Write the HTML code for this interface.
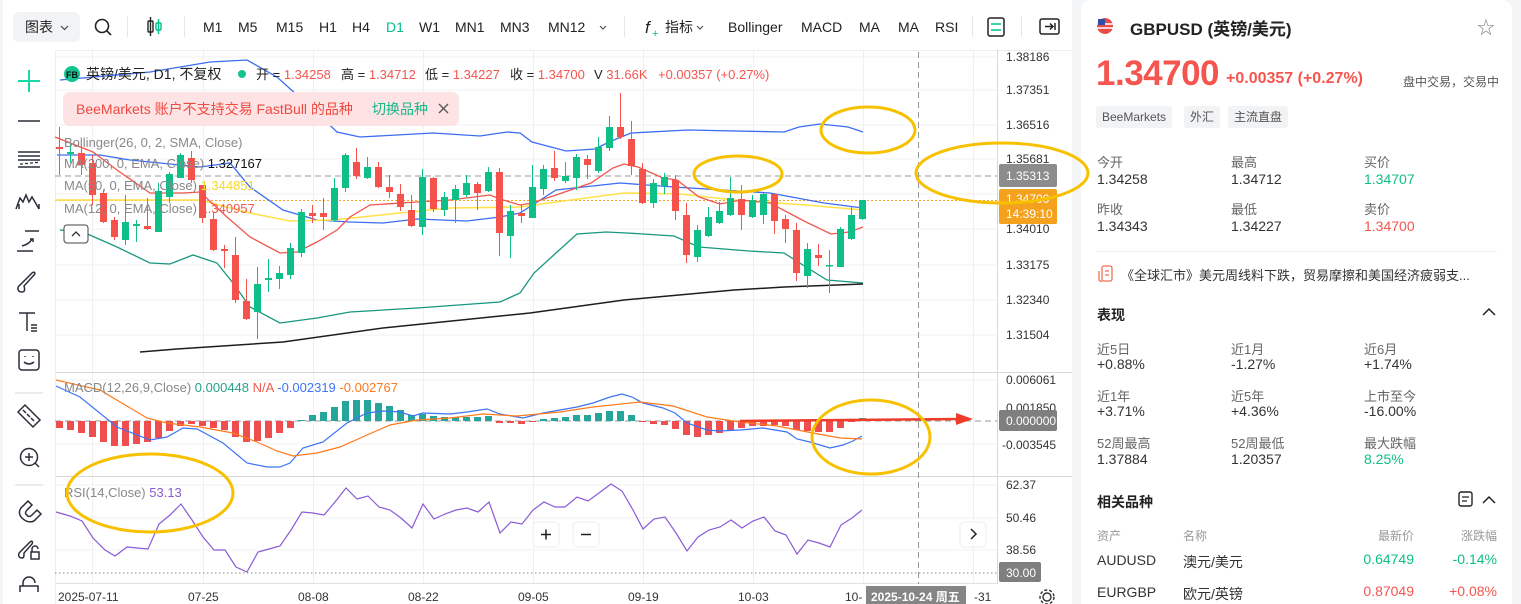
<!DOCTYPE html>
<html><head><meta charset="utf-8">
<style>
*{margin:0;padding:0;box-sizing:border-box}
body{width:1521px;height:604px;overflow:hidden;background:#f4f5f7;font-family:"Liberation Sans","Noto Sans CJK SC",sans-serif;position:relative}
#left{position:absolute;left:3px;top:0;width:1069px;height:604px;background:#fff;border-radius:10px 10px 0 0}
#rp{position:absolute;left:1081px;top:0;width:431px;height:604px;background:#fff;border-radius:10px 10px 0 0}
.t{position:absolute;white-space:nowrap}
.g{color:#666;font-size:13px}
.v{color:#333;font-size:14px}
.tag{position:absolute;top:106px;height:22px;line-height:22px;background:#f2f3f5;color:#555;font-size:12px;padding:0 6px;border-radius:3px}
</style></head><body>
<div id="left"></div>
<svg id="s" width="1072" height="604" style="position:absolute;left:0;top:0" font-family="Liberation Sans, Noto Sans CJK SC, sans-serif">
<rect x="3" y="0" width="1069" height="50" fill="#fff"/>
<line x1="55" y1="50.5" x2="1072" y2="50.5" stroke="#eee"/>
<rect x="13" y="12" width="67" height="30" rx="6" fill="#f2f3f5"/>
<text x="25" y="32" font-size="14" fill="#222">图表</text>
<path d="M61 26l3.5 3.5 3.5-3.5" fill="none" stroke="#444" stroke-width="1.2"/>
<circle cx="102" cy="26" r="6.5" fill="none" stroke="#222" stroke-width="1.6"/><line x1="107" y1="31" x2="111" y2="35" stroke="#222" stroke-width="1.6"/>
<line x1="127.5" y1="16" x2="127.5" y2="37" stroke="#e6e6e6"/>
<rect x="148" y="21" width="5" height="11" rx="1" fill="none" stroke="#222" stroke-width="1.4"/><line x1="150.5" y1="17" x2="150.5" y2="36" stroke="#222" stroke-width="1.4"/>
<rect x="156" y="23" width="5" height="7" rx="1" fill="none" stroke="#00c08b" stroke-width="1.4"/><line x1="158.5" y1="19" x2="158.5" y2="34" stroke="#00c08b" stroke-width="1.4"/>
<line x1="184.5" y1="16" x2="184.5" y2="37" stroke="#e6e6e6"/>
<g font-size="14" fill="#222">
<text x="203" y="32">M1</text><text x="238" y="32">M5</text><text x="276" y="32">M15</text><text x="319" y="32">H1</text><text x="352" y="32">H4</text><text x="386" y="32" fill="#00c08b">D1</text><text x="419" y="32">W1</text><text x="455" y="32">MN1</text><text x="500" y="32">MN3</text><text x="548" y="32">MN12</text>
<text x="665" y="32">指标</text><text x="728" y="32">Bollinger</text><text x="801" y="32">MACD</text><text x="859" y="32">MA</text><text x="898" y="32">MA</text><text x="935" y="32">RSI</text>
</g>
<path d="M600 26l3 3 3-3" fill="none" stroke="#555" stroke-width="1.2"/>
<path d="M697 26l3 3 3-3" fill="none" stroke="#555" stroke-width="1.2"/>
<line x1="624.5" y1="16" x2="624.5" y2="37" stroke="#e6e6e6"/>
<text x="645" y="33" font-size="17" font-style="italic" fill="#222">f</text><text x="652" y="37" font-size="11" fill="#00c08b">+</text>
<line x1="972.5" y1="16" x2="972.5" y2="37" stroke="#e6e6e6"/>
<rect x="988" y="18" width="16" height="18" rx="2" fill="none" stroke="#222" stroke-width="1.5"/><path d="M991 24h10M991 30h10" stroke="#00c08b" stroke-width="1.5"/>
<line x1="1021.5" y1="16" x2="1021.5" y2="37" stroke="#e6e6e6"/>
<rect x="1040" y="19" width="19" height="15" rx="2" fill="none" stroke="#222" stroke-width="1.5"/><path d="M1045 26.5h8M1050 23.5l3 3-3 3M1055 23v7" fill="none" stroke="#222" stroke-width="1.5"/>

<g stroke="#2a2e39" stroke-width="1.5" fill="none">
<path d="M29 70v22M18 81h22" stroke="#16d9a6" stroke-width="2"/>
<path d="M18 121h22"/>
<path d="M18 152h22M18 156h22M18 160h22M18 167h22"/><path d="M20 164h3M25 163.5h3M30 163h3M35 162.5h3" stroke-width="1.2"/>
<path d="M16 209l4-11 3 4 3-7 3 7 3-5 3 5 4 7M19 209v-5M39 209v-5"/>
<path d="M25 231h14M17 251h16M22 246c4-1 8-3 10-7M30 239l3 0 0 3"/>
<path d="M22 292c-5 0-5-5-2-7l12-12c2-2 4 0 2 2l-10 11c1 3 1 6-2 6z"/>
<path d="M19 313h16M27 313v18M31 325h6M31 328h6M31 331h6"/>
<rect x="19" y="350" width="20" height="20" rx="3"/><path d="M25 356v1M33 356v1M24 362q5 4 10 0"/>
<path d="M15 393h28" stroke="#e5e5e5"/>
<path d="M18 412l7-7 15 15-7 7zM23 410l3 3M27 414l3 3M31 418l3 3"/>
<circle cx="29" cy="457" r="8.5"/><path d="M35 463l4 4M29 453v8M25 457h8"/>
<path d="M15 485h28" stroke="#e5e5e5"/>
<path d="M22 518c-4-4-3-9 1-12l5-5 4 4-5 5c-2 2-2 4 0 5 1 2 3 2 5 0l5-5 4 4-5 5c-3 4-9 4-14-1z"/>
<path d="M22 558c-4 0-4-4-2-6l10-10c2-2 3 0 2 2l-8 9c0 3 0 5-2 5zM31 552h8v7h-8zM32 552v-3a3 3 0 0 1 6 0"/>
<path d="M20 592v-6h18v6M23 586v-3a6 6 0 0 1 12 0"/>
</g>

<g stroke="#f0f0f0">
<line x1="55" y1="57" x2="997" y2="57"/><line x1="55" y1="90" x2="997" y2="90"/><line x1="55" y1="125" x2="997" y2="125"/><line x1="55" y1="159" x2="997" y2="159"/><line x1="55" y1="194" x2="997" y2="194"/><line x1="55" y1="229" x2="997" y2="229"/><line x1="55" y1="265" x2="997" y2="265"/><line x1="55" y1="300" x2="997" y2="300"/><line x1="55" y1="335" x2="997" y2="335"/>
<line x1="55" y1="380" x2="997" y2="380"/><line x1="55" y1="444" x2="997" y2="444"/>
<line x1="55" y1="485" x2="997" y2="485"/><line x1="55" y1="518" x2="997" y2="518"/><line x1="55" y1="550" x2="997" y2="550"/>
<g id="vg"></g>
</g>
<line x1="55" y1="372.5" x2="1072" y2="372.5" stroke="#d8d8d8"/>
<line x1="55" y1="476.5" x2="1072" y2="476.5" stroke="#d8d8d8"/>
<line x1="55" y1="583.5" x2="997" y2="583.5" stroke="#e0e0e0"/>
<line x1="997.5" y1="50" x2="997.5" y2="584" stroke="#d8d8d8"/>
<line x1="55.5" y1="50" x2="55.5" y2="604" stroke="#eee"/>

<line x1="55" y1="176" x2="997" y2="176" stroke="#999" stroke-dasharray="6,4"/>
<line x1="55" y1="200.5" x2="997" y2="200.5" stroke="#f7a21b" stroke-dasharray="2,2"/>
<line x1="918.5" y1="52" x2="918.5" y2="584" stroke="#999" stroke-dasharray="6,4"/>
<line x1="55" y1="421" x2="997" y2="421" stroke="#999" stroke-dasharray="6,4"/>
<line x1="55" y1="573" x2="997" y2="573" stroke="#888" stroke-dasharray="1.5,2.5"/>

<g fill="none" stroke-width="1.3">
<polyline stroke="#3d6df2" points="60,80 150,72 210,62 247,60 277,77 317,113 337,132 360,137 433,133 480,136 507,132 520,133 532,142 566,151 595,149 609,142 631,133 688,130 784,132 799,127 820,124 848,127 863,132"/>
<polyline stroke="#3d6df2" points="57,155 100,155 130,160 200,167 230,163 250,187 283,210 317,220 350,222 383,223 417,219 467,221 500,217 520,213 556,190 620,183 674,187 770,193 824,203 863,208"/>
<polyline stroke="#17977f" points="60,230 83,232 117,247 150,263 170,264 193,255 217,263 233,283 250,307 280,323 317,318 350,312 417,308 500,302 520,293 534,273 556,253 577,234 606,232 627,233 674,236 699,247 749,251 784,253 806,267 827,280 863,283"/>
<polyline stroke="#ffe14a" stroke-width="1.6" points="55,200 200,200 250,213 290,221 333,220 400,213 450,208 520,207 556,202 624,193 681,194 734,200 806,205 863,210"/>
<polyline stroke="#f0564c" points="55,137 93,152 117,170 150,193 183,193 200,192 227,217 250,237 280,253 297,252 317,242 337,230 350,217 370,205 417,202 450,200 490,195 500,199 520,205 532,203 556,195 591,183 613,168 624,164 638,167 663,178 677,180 699,197 720,204 741,200 770,203 806,222 831,234 849,232 863,227"/>
<polyline stroke="#1e1e1e" stroke-width="1.5" points="140,352 177,349 283,342 383,328 530,313 624,300 734,290 784,287 863,284"/>
</g>
<g id="cd"></g>
<g id="mb"></g>
<g fill="none" stroke-width="1.2">
<polyline stroke="#3d74f5" points="56,386 80,397 117,427 150,440 167,437 183,428 197,429 223,443 247,463 267,467 280,467 290,463 303,448 323,442 347,423 367,413 383,411 400,412 413,416 423,413 450,414 467,412 487,409 500,414 523,418 543,413 560,410 577,407 593,403 610,397 622,394 632,397 643,403 663,408 675,413 687,423 707,430 720,431 740,430 763,428 787,432 797,439 810,442 830,448 843,445 853,441 862,436"/>
<polyline stroke="#ff7a1a" points="56,380 100,390 147,418 167,423 200,427 233,433 257,442 277,451 293,456 317,453 340,447 367,435 390,425 417,420 450,418 483,414 517,416 560,412 593,407 640,402 673,406 707,417 740,422 777,426 813,433 840,438 862,439"/>
<polyline stroke="#8a5bd6" points="56,512 70,516 82,521 93,538 105,550 115,556 127,547 137,548 148,549 159,524 170,515 181,504 192,520 203,537 214,550 225,550 236,567 247,572 258,552 269,549 280,546 291,530 302,512 313,513 324,515 335,502 346,488 357,499 368,496 379,507 390,510 401,518 412,528 423,504 434,519 445,514 456,510 467,508 478,512 489,502 500,533 511,522 522,524 533,510 544,502 555,507 565,507 577,497 588,501 599,493 611,484 622,491 633,510 643,529 654,519 665,517 676,533 687,551 698,537 709,530 720,527 731,520 742,528 753,521 764,517 775,531 786,535 797,554 808,540 819,543 830,547 841,525 852,518 862,510"/>
</g>
<line x1="740" y1="421" x2="962" y2="419" stroke="#ee3b2a" stroke-width="2.5"/>
<path d="M956 413l17 6-17 6z" fill="#ee3b2a"/>

<circle cx="72" cy="74" r="8" fill="#14c38e"/><text x="66" y="78" font-size="9" font-weight="bold" fill="#111">FB</text>
<text x="86" y="79" font-size="14" fill="#222">英镑/美元, D1, 不复权</text>
<circle cx="242" cy="74" r="4" fill="#14c38e"/>
<g font-size="13" fill="#222">
<text x="256" y="79">开 = <tspan fill="#f5554f">1.34258</tspan></text>
<text x="341" y="79">高 = <tspan fill="#f5554f">1.34712</tspan></text>
<text x="425" y="79">低 = <tspan fill="#f5554f">1.34227</tspan></text>
<text x="510" y="79">收 = <tspan fill="#f5554f">1.34700</tspan></text>
<text x="594" y="79">V <tspan fill="#f5554f">31.66K</tspan></text>
<text x="658" y="79" fill="#f5554f">+0.00357 (+0.27%)</text>
</g>
<rect x="63" y="92" width="396" height="34" rx="7" fill="#fde3e3"/>
<text x="76" y="114" font-size="14" fill="#ef4a42">BeeMarkets 账户不支持交易 FastBull 的品种</text>
<text x="372" y="114" font-size="14" fill="#16b98a">切换品种</text>
<path d="M439 104l9 9M448 104l-9 9" stroke="#555" stroke-width="1.3"/>
<g font-size="13" fill="#888">
<text x="64" y="147">Bollinger(26, 0, 2, SMA, Close)</text>
<text x="64" y="168">MA(200, 0, EMA, Close) <tspan fill="#111">1.327167</tspan></text>
<text x="64" y="190">MA(50, 0, EMA, Close) <tspan fill="#f4d72a">1.344851</tspan></text>
<text x="64" y="213">MA(12, 0, EMA, Close) <tspan fill="#f05a4f">1.340957</tspan></text>
<text x="64" y="392">MACD(12,26,9,Close) <tspan fill="#26a08a">0.000448</tspan> <tspan fill="#f05a4f">N/A</tspan> <tspan fill="#3d74f5">-0.002319</tspan> <tspan fill="#ff7a1a">-0.002767</tspan></text>
<text x="64" y="497">RSI(14,Close) <tspan fill="#8a5bd6">53.13</tspan></text>
</g>
<rect x="64" y="225" width="24" height="18" rx="3" fill="#fff" stroke="#444"/><path d="M72 236l4-4 4 4" fill="none" stroke="#333" stroke-width="1.3"/>

<g font-size="12" fill="#333">
<text x="1006" y="61">1.38186</text><text x="1006" y="94">1.37351</text><text x="1006" y="129">1.36516</text><text x="1006" y="163">1.35681</text><text x="1006" y="233">1.34010</text><text x="1006" y="269">1.33175</text><text x="1006" y="304">1.32340</text><text x="1006" y="339">1.31504</text>
<text x="1006" y="384">0.006061</text><text x="1006" y="412">0.001850</text><text x="1002" y="449">-0.003545</text>
<text x="1006" y="489">62.37</text><text x="1006" y="522">50.46</text><text x="1006" y="554">38.56</text>
</g>
<rect x="999" y="164" width="58" height="23" rx="2" fill="#8c8c8c"/><text x="1006" y="180" font-size="12" fill="#fff">1.35313</text>
<rect x="999" y="189" width="58" height="35" rx="2" fill="#f4a11e"/><text x="1006" y="203" font-size="12" fill="#fff">1.34700</text><text x="1006" y="218" font-size="12" fill="#fff">14:39:10</text>
<rect x="999" y="410" width="58" height="21" rx="2" fill="#7f7f7f"/><text x="1006" y="425" font-size="12" fill="#fff">0.000000</text>
<rect x="999" y="562" width="42" height="20" rx="2" fill="#7f7f7f"/><text x="1006" y="577" font-size="12" fill="#fff">30.00</text>

<g fill="#fff" stroke="#eee"><rect x="533" y="522" width="26" height="25" rx="4"/><rect x="573" y="522" width="26" height="25" rx="4"/><rect x="960" y="522" width="26" height="25" rx="4"/></g>
<path d="M541 534.5h10M546 529.5v10M581 534.5h10" stroke="#222" stroke-width="1.5"/><path d="M971 529l5 5-5 5" fill="none" stroke="#222" stroke-width="1.5"/>

<g font-size="12" fill="#333">
<text x="58" y="601">2025-07-11</text><text x="188" y="601">07-25</text><text x="298" y="601">08-08</text><text x="408" y="601">08-22</text><text x="518" y="601">09-05</text><text x="628" y="601">09-19</text><text x="738" y="601">10-03</text><text x="845" y="601">10-</text><text x="974" y="601">-31</text>
</g>
<rect x="866" y="586" width="100" height="18" fill="#858585"/><text x="871" y="601" font-size="12" font-weight="bold" fill="#fff">2025-10-24 周五</text>
<circle cx="1047" cy="597" r="4" fill="none" stroke="#333" stroke-width="1.4"/><circle cx="1047" cy="597" r="7" fill="none" stroke="#333" stroke-width="1.4" stroke-dasharray="3,2"/>
</svg>

<div id="rp">
<svg width="20" height="20" style="position:absolute;left:14px;top:16px"><circle cx="10" cy="10" r="8" fill="#e94b4b"/><path d="M2 8h16M2 12h16" stroke="#fff" stroke-width="1.5"/><rect x="3" y="3" width="7" height="6" fill="#2d4fa8"/></svg>
<div class="t" style="left:49px;top:15px;font-size:17px;font-weight:bold;color:#222">GBPUSD (英镑/美元)</div>
<div class="t" style="left:396px;top:14px;font-size:18px;color:#888">☆</div>
<div class="t" style="left:15px;top:54px;font-size:35px;color:#f5554f;font-weight:bold;letter-spacing:-0.5px">1.34700</div>
<div class="t" style="left:145px;top:70px;font-size:16px;color:#f5554f;font-weight:bold">+0.00357 (+0.27%)</div>
<div class="t" style="left:322px;top:73px;font-size:12px;color:#555">盘中交易，交易中</div>
<div class="tag" style="left:15px">BeeMarkets</div><div class="tag" style="left:103px">外汇</div><div class="tag" style="left:147px">主流直盘</div>
<div class="t g" style="left:16px;top:152px">今开</div><div class="t v" style="left:16px;top:171px">1.34258</div>
<div class="t g" style="left:150px;top:152px">最高</div><div class="t v" style="left:150px;top:171px">1.34712</div>
<div class="t g" style="left:283px;top:152px">买价</div><div class="t v" style="left:283px;top:171px;color:#0bbf83">1.34707</div>
<div class="t g" style="left:16px;top:199px">昨收</div><div class="t v" style="left:16px;top:218px">1.34343</div>
<div class="t g" style="left:150px;top:199px">最低</div><div class="t v" style="left:150px;top:218px">1.34227</div>
<div class="t g" style="left:283px;top:199px">卖价</div><div class="t v" style="left:283px;top:218px;color:#f5554f">1.34700</div>
<div style="position:absolute;left:15px;top:251px;width:401px;height:1px;background:#eee"></div>
<svg width="16" height="18" style="position:absolute;left:17px;top:265px"><rect x="4" y="1" width="10" height="15" rx="2" fill="none" stroke="#f07050" stroke-width="1.3"/><path d="M1 6v8a2 2 0 0 0 3 2M7 6h4M7 10h4" fill="none" stroke="#f07050" stroke-width="1.3"/></svg>
<div class="t" style="left:40px;top:265px;font-size:13px;color:#333">《全球汇市》美元周线料下跌，贸易摩擦和美国经济疲弱支...</div>
<div class="t" style="left:16px;top:305px;font-size:14px;font-weight:bold;color:#222">表现</div>
<svg width="16" height="10" style="position:absolute;left:400px;top:307px"><path d="M2 8l6-6 6 6" fill="none" stroke="#222" stroke-width="1.5"/></svg>
<div class="t g" style="left:16px;top:339px">近5日</div><div class="t v" style="left:16px;top:356px">+0.88%</div>
<div class="t g" style="left:150px;top:339px">近1月</div><div class="t v" style="left:150px;top:356px">-1.27%</div>
<div class="t g" style="left:283px;top:339px">近6月</div><div class="t v" style="left:283px;top:356px">+1.74%</div>
<div class="t g" style="left:16px;top:386px">近1年</div><div class="t v" style="left:16px;top:403px">+3.71%</div>
<div class="t g" style="left:150px;top:386px">近5年</div><div class="t v" style="left:150px;top:403px">+4.36%</div>
<div class="t g" style="left:283px;top:386px">上市至今</div><div class="t v" style="left:283px;top:403px">-16.00%</div>
<div class="t g" style="left:16px;top:433px">52周最高</div><div class="t v" style="left:16px;top:451px">1.37884</div>
<div class="t g" style="left:150px;top:433px">52周最低</div><div class="t v" style="left:150px;top:451px">1.20357</div>
<div class="t g" style="left:283px;top:433px">最大跌幅</div><div class="t v" style="left:283px;top:451px;color:#0bbf83">8.25%</div>
<div class="t" style="left:16px;top:492px;font-size:14px;font-weight:bold;color:#222">相关品种</div>
<svg width="40" height="18" style="position:absolute;left:377px;top:491px"><rect x="1" y="1" width="13" height="14" rx="2" fill="none" stroke="#222" stroke-width="1.4"/><path d="M4 6h7M4 10h5" stroke="#222" stroke-width="1.3"/><path d="M25 12l6-6 6 6" fill="none" stroke="#222" stroke-width="1.5"/></svg>
<div class="t" style="left:16px;top:527px;font-size:12px;color:#999">资产</div>
<div class="t" style="left:102px;top:527px;font-size:12px;color:#999">名称</div>
<div class="t" style="right:98px;top:527px;font-size:12px;color:#999">最新价</div>
<div class="t" style="right:15px;top:527px;font-size:12px;color:#999">涨跌幅</div>
<div class="t v" style="left:16px;top:552px">AUDUSD</div><div class="t v" style="left:102px;top:552px">澳元/美元</div>
<div class="t v" style="right:98px;top:551px;color:#0bbf83">0.64749</div><div class="t v" style="right:15px;top:551px;color:#0bbf83">-0.14%</div>
<div class="t v" style="left:16px;top:584px">EURGBP</div><div class="t v" style="left:102px;top:584px">欧元/英镑</div>
<div class="t v" style="right:98px;top:583px;color:#f5554f">0.87049</div><div class="t v" style="right:15px;top:583px;color:#f5554f">+0.08%</div>
</div>
<svg width="1521" height="604" style="position:absolute;left:0;top:0;z-index:5;pointer-events:none">
<g fill="none" stroke="#f7c100" stroke-width="3">
<ellipse cx="868" cy="130" rx="47" ry="23"/>
<ellipse cx="738" cy="174" rx="44" ry="18"/>
<ellipse cx="1002" cy="173" rx="86" ry="30"/>
<ellipse cx="871" cy="437" rx="59" ry="37"/>
<ellipse cx="150" cy="493" rx="83" ry="39"/>
</g>
</svg>
<script>
var NS="http://www.w3.org/2000/svg";
function el(p,t,a){var e=document.createElementNS(NS,t);for(var k in a)e.setAttribute(k,a[k]);p.appendChild(e);}
var vg=document.getElementById('vg');
[92,203,313,423,533,643,753,863,973].forEach(function(x){el(vg,'line',{x1:x+.5,y1:51,x2:x+.5,y2:584});});
var D="r 147 149 127 175|g 152 154 143 163|r 153 165 147 175|r 163 195 155 205|r 193 222 190 223|r 220 237 217 240|g 222 240 195 245|g 224 226 220 242|r 226 229 198 230|g 191 232 183 232|g 174 197 172 203|g 155 178 153 178|r 158 180 151 183|r 185 218 185 223|r 219 250 212 251|r 249 251 245 268|r 255 300 237 303|r 301 319 279 320|g 284 312 267 339|g 278 280 259 292|g 273 279 266 289|g 248 275 243 279|g 212 253 209 257|r 213 216 205 223|r 213 217 198 230|g 188 220 178 222|g 155 188 153 192|r 162 176 148 179|g 167 178 157 179|r 167 187 162 188|r 187 192 175 198|r 194 207 184 211|r 210 226 195 227|g 177 227 169 235|r 178 209 177 212|g 197 210 192 216|g 189 200 185 223|g 183 195 175 197|r 184 193 182 210|g 172 191 167 192|r 172 233 168 256|g 211 236 205 258|r 213 216 205 223|g 187 218 165 218|g 169 189 165 195|r 168 178 151 181|g 176 181 162 183|g 157 178 154 190|r 159 165 155 179|g 147 171 137 173|g 127 148 116 151|r 127 137 93 139|r 139 166 121 175|r 169 203 163 204|g 183 203 179 208|g 177 186 173 194|r 180 211 175 220|r 215 255 203 263|g 230 257 225 262|g 217 236 207 237|g 211 223 202 224|g 198 215 177 216|r 199 215 185 230|g 200 217 195 218|g 194 215 193 224|r 194 221 194 234|r 219 229 215 243|r 230 273 223 281|g 249 276 243 288|r 255 258 244 266|g 265 266 250 293|g 229 267 227 267|g 215 239 207 240|g 200 219 200 220".split('|');
var cd=document.getElementById('cd');
D.forEach(function(s,i){var a=s.split(' '),c=a[0]=='r'?'#f5524c':'#0fbf88',x=59+i*11;
el(cd,'line',{x1:x+.5,y1:+a[3],x2:x+.5,y2:+a[4],stroke:c,'stroke-width':1});
var h=Math.max(1.5,a[2]-a[1]);el(cd,'rect',{x:x-3,y:+a[1],width:7,height:h,fill:c});});
var M=[428,430,433,437,442,446,446,444,442,438,431,426,424,426,428,430,437,442,441,438,433,428,420,415,412,407,401,400,400,403,406,410,415,414,416,417,417,417,417,416,423,423,424,422,419,418,417,415,415,413,411,411,415,422,424,425,429,435,437,435,433,430,428,426,426,425,426,430,431,432,432,428,422,418];
var mb=document.getElementById('mb');
M.forEach(function(y,i){var x=59+i*11,up=y<421,c=up?'#26a69a':'#f04e4e';var t=up?y:421,h=Math.max(1,Math.abs(y-421));el(mb,'rect',{x:x-3,y:t,width:7,height:h,fill:c});});
</script>
</body></html>
